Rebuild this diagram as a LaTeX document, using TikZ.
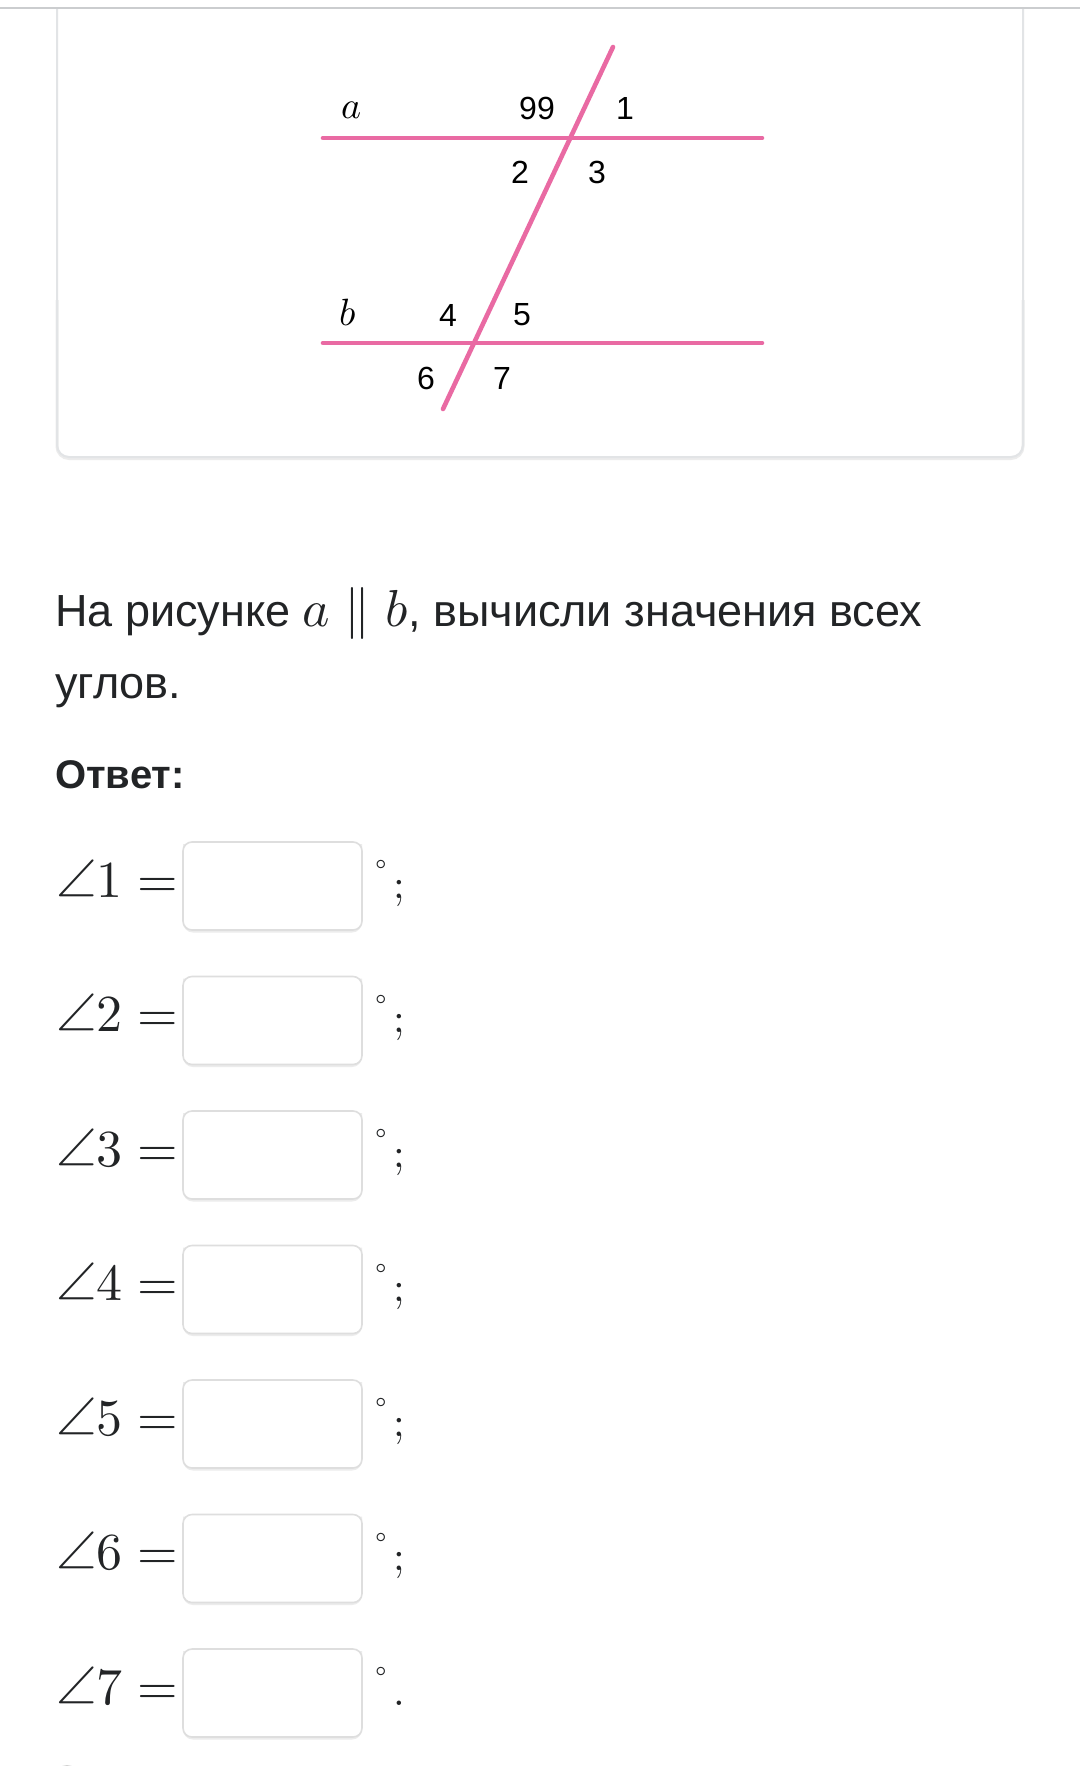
\documentclass[tikz,border=0pt]{standalone}
\usepackage{fontspec}
\usepackage{unicode-math}
\setmainfont{Liberation Sans}
\setmathfont{Latin Modern Math}
\newfontfamily\labfont{Liberation Sans}
\definecolor{pinkline}{RGB}{233,106,163}
\definecolor{txt}{RGB}{34,36,38}
\definecolor{cardgray}{RGB}{226,228,230}
\definecolor{boxgray}{RGB}{222,222,222}
\definecolor{shadowgray}{RGB}{236,236,236}
\tikzset{
  geoline/.style={pinkline, line width=4.6pt, line cap=round},
  numlab/.style={font=\labfont\fontsize{32}{32}\selectfont, text=black, inner sep=0pt},
  letlab/.style={font=\fontsize{38}{38}\selectfont, text=black, inner sep=0pt},
  bodytext/.style={font=\fontsize{45}{52}\selectfont, text=txt, inner sep=0pt, anchor=base west},
  anglab/.style={font=\fontsize{52}{52}\selectfont, text=txt, inner sep=0pt, anchor=base west},
  degsym/.style={font=\fontsize{28}{28}\selectfont, text=txt, inner sep=0pt},
  punct/.style={font=\fontsize{42}{42}\selectfont, text=txt, inner sep=0pt, anchor=base west},
  ansbox/.style={draw=boxgray, line width=1.6pt, rounded corners=9pt, fill=white},
}
\begin{document}
\begin{tikzpicture}[x=1pt,y=-1pt]
\useasboundingbox (0,0) rectangle (1080,1766);
\fill[white] (0,0) rectangle (1080,1766);
% card
\draw[shadowgray, line width=3pt, rounded corners=12pt] (57,300) -- (57,458.5) -- (1023,458.5) -- (1023,300);
\draw[cardgray, line width=2pt, rounded corners=12pt] (57,8) -- (57,457) -- (1023,457) -- (1023,8);
\draw[cardgray!90!black, line width=1.8pt] (0,8) -- (1080,8);
% geometry
\coordinate (a1) at (323,138);
\coordinate (a2) at (762,138);
\coordinate (b1) at (323,343);
\coordinate (b2) at (762,343);
\coordinate (t1) at (613,47);
\coordinate (t2) at (443,409);
\draw[geoline] (a1) -- (a2);
\draw[geoline] (b1) -- (b2);
\draw[geoline] (t1) -- (t2);
\node[letlab] (la) at (352,110) {$a$};
\node[letlab] (lb) at (348,313) {$b$};
\node[numlab] (n99) at (537,108) {99};
\node[numlab] (n1) at (625,108) {1};
\node[numlab] (n2) at (520,172) {2};
\node[numlab] (n3) at (597,172) {3};
\node[numlab] (n4) at (448,315) {4};
\node[numlab] (n5) at (522,315) {5};
\node[numlab] (n6) at (426,378) {6};
\node[numlab] (n7) at (502,378) {7};
% question
\node[bodytext] (q1) at (55,626) {На рисунке {\fontsize{52}{52}\selectfont$a\parallel b$}, вычисли значения всех};
\node[bodytext] (q2) at (55,698) {углов.};
\node[bodytext, font=\fontsize{40}{48}\selectfont\bfseries] (ans) at (55,788) {Ответ:};
% answer rows
\foreach \i/\e in {1/;,2/;,3/;,4/;,5/;,6/;,7/.} {
  \pgfmathsetmacro{\c}{886+134.5*(\i-1)}
  \node[anglab] (lab\i) at (56,\c+11) {$\angle\i=$};
  \draw[shadowgray, line width=2pt, rounded corners=9pt] (184,\c-42) -- (184,\c+45.5) -- (361,\c+45.5) -- (361,\c-42);
  \draw[ansbox] (183,\c-44) rectangle (362,\c+44);
  \node[degsym] (deg\i) at (381,\c-20) {$\circ$};
  \node[punct] (pu\i) at (393,\c+12) {$\e$};
}
% partially visible element at the bottom edge
\fill[gray!35] (67,1778) circle (13);
\end{tikzpicture}
\end{document}
